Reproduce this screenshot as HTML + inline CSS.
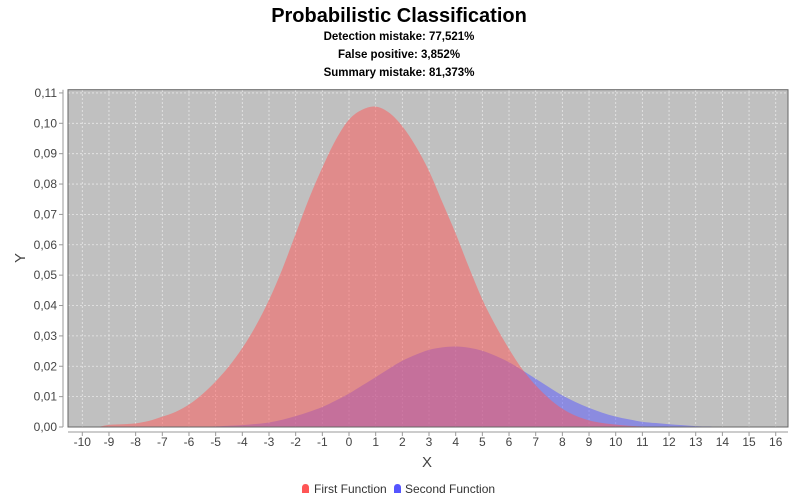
<!DOCTYPE html>
<html><head><meta charset="utf-8"><style>
body{margin:0;background:#fff;}
svg{display:block;font-family:"Liberation Sans","DejaVu Sans",sans-serif;}
</style></head><body>
<svg id="chart" width="800" height="500" viewBox="0 0 800 500">
<text x="399" y="22" text-anchor="middle" font-size="20" font-weight="bold" fill="#000">Probabilistic Classification</text>
<text x="399" y="40" text-anchor="middle" font-size="11.5" font-weight="bold" fill="#000">Detection mistake: 77,521%</text>
<text x="399" y="58" text-anchor="middle" font-size="11.5" font-weight="bold" fill="#000">False positive: 3,852%</text>
<text x="399" y="76" text-anchor="middle" font-size="11.5" font-weight="bold" fill="#000">Summary mistake: 81,373%</text>
<rect x="68" y="89.7" width="720" height="337.3" fill="#c0c0c0"/>
<g id="grid"></g>
<g id="series"></g>
<rect x="68" y="89.7" width="720" height="337.3" fill="none" stroke="#666" stroke-width="1"/>
<g id="axes"></g>
<text x="427" y="467" text-anchor="middle" font-size="15" fill="#444">X</text>
<text transform="translate(25,258) rotate(-90)" text-anchor="middle" font-size="15" fill="#444">Y</text>
<g>
<g><path d="M302,493 L302,488 Q302,484 305.5,484 Q309,484 309,488 L309,493 Z" fill="#ff5555"/><text x="314" y="493" font-size="12" fill="#333">First Function</text></g>
<g><path d="M394,493 L394,488 Q394,484 397.5,484 Q401,484 401,488 L401,493 Z" fill="#5555ff"/><text x="405" y="493" font-size="12" fill="#333">Second Function</text></g>
</g>
</svg>
<script>
const xTicks=[-10,-9,-8,-7,-6,-5,-4,-3,-2,-1,0,1,2,3,4,5,6,7,8,9,10,11,12,13,14,15,16];
const yTicks=[0,0.01,0.02,0.03,0.04,0.05,0.06,0.07,0.08,0.09,0.10,0.11];
const firstX=[-9.4,-9,-8.5,-8,-7.5,-7,-6.5,-6,-5.5,-5,-4.5,-4,-3.5,-3,-2.5,-2,-1.5,-1,-0.5,0,0.5,1,1.5,2,2.5,3,3.5,4,4.5,5,5.5,6,6.5,7,7.5,8,8.5,9,9.5,10,10.5,11,12];
const firstY=[0,0.0007,0.0009,0.0012,0.002,0.0034,0.005,0.0074,0.0108,0.015,0.02,0.026,0.0332,0.0418,0.052,0.0636,0.0752,0.0854,0.0945,0.1012,0.1045,0.1055,0.1035,0.099,0.0925,0.0843,0.074,0.0637,0.0525,0.042,0.0333,0.0257,0.019,0.0137,0.0094,0.006,0.0037,0.0022,0.0013,0.0008,0.0004,0.0002,0];
const secondX=[-6,-5,-4.5,-4,-3.5,-3,-2.5,-2,-1.5,-1,-0.5,0,0.5,1,1.5,2,2.5,3,3.5,4,4.5,5,5.5,6,6.5,7,7.5,8,8.5,9,9.5,10,10.5,11,11.5,12,12.5,13,13.5,14,15];
const secondY=[0,0.0002,0.0004,0.0006,0.001,0.0015,0.0024,0.0036,0.005,0.0066,0.0087,0.011,0.0137,0.0164,0.0192,0.0218,0.0238,0.0254,0.0262,0.0265,0.0261,0.0251,0.0234,0.0213,0.0187,0.0159,0.0131,0.0104,0.0082,0.0063,0.0047,0.0034,0.0025,0.0017,0.0013,0.0009,0.0006,0.0003,0.0002,0.0001,0];
const NS='http://www.w3.org/2000/svg';
function sx(v){return 82.3+(v+10)*26.67;}
function sy(v){return 427-v*3037;}
const grid=document.getElementById('grid'),axes=document.getElementById('axes'),ser=document.getElementById('series');
function mk(tag,attrs,parent){const e=document.createElementNS(NS,tag);for(const k in attrs)e.setAttribute(k,attrs[k]);parent.appendChild(e);return e;}
mk('line',{x1:63,y1:89.7,x2:63,y2:427,stroke:'#999'},axes);
mk('line',{x1:68,y1:432,x2:788,y2:432,stroke:'#999'},axes);
xTicks.forEach(v=>{
  const x=sx(v);
  const g=mk('line',{x1:x,y1:90,x2:x,y2:427,stroke:'#e8e8e8','stroke-dasharray':'2,2','stroke-width':0.8},grid);
  
  
  mk('line',{x1:x,y1:432,x2:x,y2:436,stroke:'#999'},axes);
  const t=mk('text',{x:x,y:446,'text-anchor':'middle','font-size':12,fill:'#444'},axes);
  t.textContent=String(v);
  
  
});
yTicks.forEach(v=>{
  const y=sy(v);
  const g=mk('line',{x1:68,y1:y,x2:788,y2:y,stroke:'#e8e8e8','stroke-dasharray':'2,2','stroke-width':0.8},grid);
  
  
  mk('line',{x1:59,y1:y,x2:63,y2:y,stroke:'#999'},axes);
  const t=mk('text',{x:57,y:y+4,'text-anchor':'end','font-size':12,fill:'#444'},axes);
  t.textContent=v.toFixed(2).replace('.',',');
  
  
});
function areaPath(xs,ys){
  const p=xs.map((x,i)=>[sx(x),sy(ys[i])]);
  let d='M'+p[0][0]+','+sy(0)+' L'+p[0][0]+','+p[0][1];
  for(let i=0;i<p.length-1;i++){
    const p0=p[Math.max(0,i-1)],p1=p[i],p2=p[i+1],p3=p[Math.min(p.length-1,i+2)];
    const c1=[p1[0]+(p2[0]-p0[0])/6,Math.min(sy(0),p1[1]+(p2[1]-p0[1])/6)];
    const c2=[p2[0]-(p3[0]-p1[0])/6,Math.min(sy(0),p2[1]-(p3[1]-p1[1])/6)];
    d+=' C'+c1[0]+','+c1[1]+' '+c2[0]+','+c2[1]+' '+p2[0]+','+p2[1];
  }
  d+=' L'+p[p.length-1][0]+','+sy(0)+' Z';
  return d;
}
const a2=mk('path',{d:areaPath(secondX,secondY),fill:'#5555ff','fill-opacity':0.5},ser);


const a1=mk('path',{d:areaPath(firstX,firstY),fill:'#ff5555','fill-opacity':0.5},ser);


</script>
</body></html>
